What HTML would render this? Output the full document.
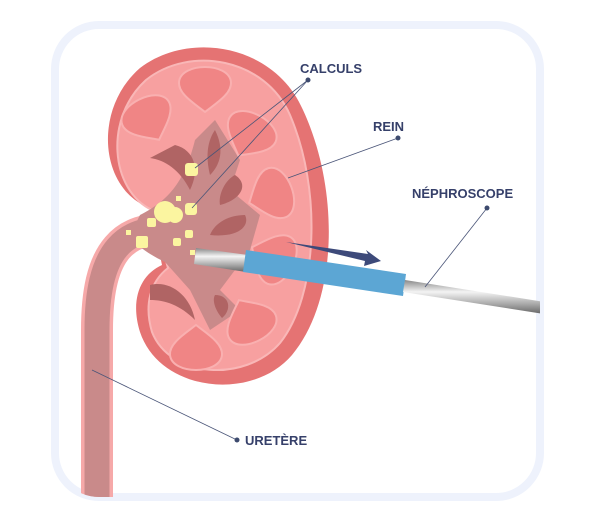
<!DOCTYPE html>
<html><head><meta charset="utf-8"><style>
html,body{margin:0;padding:0;background:#fff;}
svg{display:block}
text{font-family:"Liberation Sans",sans-serif;font-weight:bold;font-size:13px;fill:#36406a}
</style></head><body>
<svg width="600" height="532" viewBox="0 0 600 532">
<defs>
<linearGradient id="rod" x1="0" y1="0" x2="0" y2="1">
<stop offset="0" stop-color="#888"/><stop offset="0.35" stop-color="#f4f4f4"/><stop offset="0.7" stop-color="#aaa"/><stop offset="1" stop-color="#666"/>
</linearGradient>
<clipPath id="fr"><rect x="55" y="25" width="485" height="472" rx="44"/></clipPath>
<path id="pyr" d="M0,20 C-10,12 -27,2 -26,-10 C-24,-30 24,-30 26,-10 C27,2 10,12 0,20 Z"/>
</defs>
<rect x="55" y="25" width="485" height="472" rx="44" fill="#fff" stroke="#eef2fc" stroke-width="8"/>
<g clip-path="url(#fr)">
<path d="M190,232 C120,218 97,255 97,330 L97,500" fill="none" stroke="#f6a9a9" stroke-width="32"/>
<path d="M190,232 C120,218 97,255 97,330 L97,500" fill="none" stroke="#c98a8a" stroke-width="25"/>
<path d="M150,208 C100,190 92,110 140,68 C190,30 275,45 303,110 C340,190 338,300 292,355 C252,402 160,392 140,332 C130,300 140,275 162,265 Z" fill="#e57373"/>
<path d="M152,210 C110,190 104,118 146,80 C190,45 265,58 290,115 C322,190 318,295 280,343 C245,383 170,378 152,332 C144,305 150,282 168,268 Z" fill="#f7a0a0" stroke="#f9b7b7" stroke-width="2"/>
<path d="M140,215 C170,200 185,180 195,140 L215,120 L240,160 L230,190 L260,215 L250,250 L220,290 L240,310 L210,330 L190,290 L165,262 C150,255 135,245 130,235 Z" fill="#c98a8a"/>
<g fill="#b06464">
<path d="M175,145 C195,150 200,170 190,190 C180,170 165,160 150,158 Z"/>
<path d="M215,130 C225,150 220,165 210,175 C205,155 208,140 215,130 Z"/>
<path d="M235,175 C250,185 240,200 220,205 C218,195 225,180 235,175 Z"/>
<path d="M245,215 C250,225 240,238 210,235 C215,222 230,215 245,215 Z"/>
<path d="M150,285 C170,280 190,295 195,320 C180,305 165,300 150,300 Z"/>
<path d="M215,295 C230,295 232,310 222,318 C215,310 212,300 215,295 Z"/>
</g>
<g fill="#f08585" stroke="#f9b0b0" stroke-width="2">
<use href="#pyr" transform="translate(205,92)"/>
<use href="#pyr" transform="translate(150,122) rotate(-27)"/>
<use href="#pyr" transform="translate(248,138) rotate(29)"/>
<use href="#pyr" transform="translate(268,196) rotate(70)"/>
<use href="#pyr" transform="translate(270,256) rotate(116)"/>
<use href="#pyr" transform="translate(248,318) rotate(153)"/>
<use href="#pyr" transform="translate(196,345) rotate(180)"/>
</g>
<g fill="#fbf5a0">
<rect x="185" y="163" width="13" height="13" rx="3"/>
<rect x="185" y="203" width="12" height="12" rx="3"/>
<circle cx="165" cy="212" r="11"/><circle cx="175" cy="215" r="8"/>
<rect x="136" y="236" width="12" height="12" rx="2"/>
<rect x="147" y="218" width="9" height="9" rx="2"/>
<rect x="126" y="230" width="5" height="5"/>
<rect x="173" y="238" width="8" height="8" rx="2"/>
<rect x="185" y="230" width="8" height="8" rx="2"/>
<rect x="190" y="250" width="5" height="5"/>
<rect x="176" y="196" width="5" height="5"/>
</g>
<polygon points="196,248 248,255 246,272 194,264" fill="url(#rod)"/>
<polygon points="246,250 406,274 403,296 243,272" fill="#5ca6d4"/>
<polygon points="405,280 545,302 544,314 403,292" fill="url(#rod)"/>
</g>
<polygon points="286,242 368,254 366,250 381,261 364,266 365,261" fill="#3d4a7a"/>
<g stroke="#4a5578" stroke-width="0.8" fill="none">
<line x1="308" y1="80" x2="195" y2="168"/>
<line x1="308" y1="80" x2="192" y2="208"/>
<line x1="398" y1="138" x2="288" y2="178"/>
<line x1="487" y1="208" x2="425" y2="287"/>
<line x1="237" y1="440" x2="92" y2="370"/>
</g>
<g fill="#3d4a6e"><circle cx="308" cy="80" r="2.5"/><circle cx="398" cy="138" r="2.5"/><circle cx="487" cy="208" r="2.5"/><circle cx="237" cy="440" r="2.5"/></g>
<text x="300" y="73">CALCULS</text>
<text x="373" y="131">REIN</text>
<text x="412" y="198">NÉPHROSCOPE</text>
<text x="245" y="445">URETÈRE</text>
</svg>
</body></html>
